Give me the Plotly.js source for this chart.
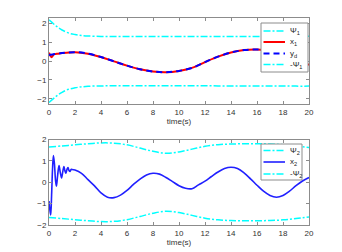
<!DOCTYPE html>
<html>
<head>
<meta charset="utf-8">
<script src="https://cdn.plot.ly/plotly-3.0.1.min.js"></script>
<style>html,body{margin:0;padding:0;background:#fff;}#chart{width:342px;height:252px;}</style>
</head>
<body>
<div id="chart"></div>
<script>
// ---- data ----
var psi1T = [0, 0.25, 0.5, 0.75, 1, 1.5, 2, 2.5, 3, 4, 5, 6, 7, 8, 9, 10, 11, 12, 13, 14, 15, 16, 17, 18, 19, 20];
var psi1  = [2.2, 2.05, 1.9, 1.77, 1.66, 1.5, 1.42, 1.37, 1.34, 1.32, 1.31, 1.31, 1.31, 1.31, 1.31, 1.31, 1.31, 1.31, 1.32, 1.32, 1.32, 1.32, 1.32, 1.32, 1.33, 1.33];

var ydT = [0, 1, 2, 3, 4, 5, 6, 7, 8, 9, 10, 11, 12, 13, 14, 15, 16, 17, 18, 19, 20];
var yd  = [0.33, 0.43, 0.48, 0.40, 0.22, -0.01, -0.24, -0.43, -0.55, -0.59, -0.52, -0.36, -0.05, 0.24, 0.46, 0.59, 0.62, 0.55, 0.38, 0.09, -0.2];

var x1T = [0, 0.1, 0.2, 0.3, 0.4, 0.6, 0.8, 1, 2, 3, 4, 5, 6, 7, 8, 9, 10, 11, 12, 13, 14, 15, 16, 17, 18, 19, 20];
var x1  = [0.45, 0.30, 0.21, 0.30, 0.37, 0.39, 0.41, 0.43, 0.48, 0.40, 0.22, -0.01, -0.24, -0.43, -0.55, -0.59, -0.52, -0.36, -0.05, 0.24, 0.46, 0.59, 0.62, 0.55, 0.38, 0.09, -0.2];

var psi2T = [0, 1, 2, 3, 4, 5, 6, 7, 8, 9, 10, 11, 12, 13, 14, 15, 16, 17, 18, 19, 20];
var psi2  = [1.65, 1.70, 1.75, 1.80, 1.84, 1.83, 1.75, 1.60, 1.45, 1.36, 1.42, 1.55, 1.68, 1.76, 1.79, 1.80, 1.80, 1.79, 1.76, 1.70, 1.62];

var x2T = [0, 0.05, 0.13, 0.2, 0.27, 0.34, 0.42, 0.5, 0.57, 0.66, 0.77, 0.87, 0.97, 1.06, 1.15, 1.22, 1.3, 1.38, 1.46, 1.54, 1.62, 1.7, 1.77, 2,
           2.5, 3, 3.5, 4, 4.5, 5, 5.5, 6, 6.5, 7, 7.5, 8, 8.5, 9, 9.5, 10, 10.5, 11, 11.5, 12, 12.5, 13, 13.5, 14, 14.5, 15, 15.5, 16, 16.5, 17, 17.5, 18, 18.5, 19, 19.5, 20];
var x2  = [-0.88, -1.2, -1.53, -0.6, 0.6, 1.25, 0.85, 0.1, -0.18, 0.3, 0.78, 0.45, 0.2, 0.5, 0.73, 0.55, 0.42, 0.6, 0.69, 0.55, 0.5, 0.6, 0.6, 0.57,
           0.42, 0.12, -0.17, -0.50, -0.70, -0.72, -0.60, -0.38, -0.10, 0.15, 0.34, 0.42, 0.38, 0.22, 0.03, -0.16, -0.28, -0.30, -0.12, 0.05, 0.27, 0.48, 0.64, 0.70, 0.64, 0.44, 0.16, -0.14, -0.42, -0.62, -0.70, -0.62, -0.42, -0.16, 0.06, 0.22];

var xTicks = [0, 2, 4, 6, 8, 10, 12, 14, 16, 18, 20];
var labels1 = ['Ψ<sub>1</sub>', 'x<sub>1</sub>', 'y<sub>d</sub>', '-Ψ<sub>1</sub>'];
var labels2 = ['Ψ<sub>2</sub>', 'x<sub>2</sub>', '-Ψ<sub>2</sub>'];

// ---- styles ----
var CYAN = '#00ffff', RED = '#ff0000', BLUE = '#0000ff', BLUE2 = '#2020ff';
var DASHDOT = '7px,2px,2px,2px', DASH = '6px,4px';
var FONT = 'Liberation Sans, Arial, sans-serif';

function neg(a){ return a.map(function(v){ return -v; }); }

var traces = [
  {x: psi1T, y: psi1, xaxis:'x', yaxis:'y', mode:'lines', line:{color:CYAN, width:1.5, dash:DASHDOT, shape:'spline'}, name: labels1[0]},
  {x: x1T, y: x1, xaxis:'x', yaxis:'y', mode:'lines', line:{color:RED, width:2, shape:'spline'}, name: labels1[1]},
  {x: ydT, y: yd, xaxis:'x', yaxis:'y', mode:'lines', line:{color:BLUE, width:2, dash:DASH, shape:'spline'}, name: labels1[2]},
  {x: psi1T, y: neg(psi1), xaxis:'x', yaxis:'y', mode:'lines', line:{color:CYAN, width:1.5, dash:DASHDOT, shape:'spline'}, name: labels1[3]},
  {x: psi2T, y: psi2, xaxis:'x2', yaxis:'y2', mode:'lines', line:{color:CYAN, width:1.5, dash:DASHDOT, shape:'spline'}, name: labels2[0]},
  {x: x2T, y: x2, xaxis:'x2', yaxis:'y2', mode:'lines', line:{color:BLUE2, width:1.6, shape:'spline'}, name: labels2[1]},
  {x: psi2T, y: neg(psi2), xaxis:'x2', yaxis:'y2', mode:'lines', line:{color:CYAN, width:1.5, dash:DASHDOT, shape:'spline'}, name: labels2[2]}
];

// plot area in pixels (for placing the hand-drawn legends)
var PL = 49, PR = 309, PT = 18, PB = 225;
function px(x){ return (x - PL) / (PR - PL); }
function py(y){ return (PB - y) / (PB - PT); }

var shapes = [], annotations = [];
function addLegend(box, rows, labels, styles){
  shapes.push({type:'rect', xref:'paper', yref:'paper', x0:px(box[0]), x1:px(box[1]), y0:py(box[3]), y1:py(box[2]),
               line:{color:'#8c8c8c', width:1}, fillcolor:'#ffffff', layer:'above'});
  for (var i = 0; i < labels.length; i++) {
    shapes.push({type:'line', xref:'paper', yref:'paper', x0:px(box[0] + 2.5), x1:px(box[0] + 24), y0:py(rows[i]), y1:py(rows[i]),
                 line:styles[i], layer:'above'});
    annotations.push({xref:'paper', yref:'paper', x:px(box[0] + 27), y:py(rows[i]), xanchor:'left', yanchor:'middle',
                      text:labels[i], showarrow:false, font:{family:FONT, size:8, color:'#262626'}});
  }
}
addLegend([261, 308, 23, 72], [31, 42, 53.5, 64.5], labels1,
  [{color:CYAN, width:1.5, dash:DASHDOT}, {color:RED, width:2}, {color:BLUE, width:2, dash:DASH}, {color:CYAN, width:1.5, dash:DASHDOT}]);
addLegend([261, 302, 144, 180], [150.5, 162, 174], labels2,
  [{color:CYAN, width:1.5, dash:DASHDOT}, {color:BLUE2, width:1.6}, {color:CYAN, width:1.5, dash:DASHDOT}]);

function xa(anchor){
  return {anchor:anchor, domain:[0,1], range:[0,20], tickvals:xTicks, ticks:'inside', ticklen:3, tickcolor:'#8c8c8c',
          showline:true, linecolor:'#8c8c8c', linewidth:1, mirror:'ticks', showgrid:false, zeroline:false,
          tickfont:{family:FONT, size:8, color:'#333333'},
          title:{text:'time(s)', font:{family:FONT, size:8, color:'#333333'}, standoff:2}};
}
function ya(anchor, dom, rng){
  return {anchor:anchor, domain:dom, range:rng, tickvals:[-2,-1,0,1,2], ticks:'inside', ticklen:3, tickcolor:'#8c8c8c',
          showline:true, linecolor:'#8c8c8c', linewidth:1, mirror:'ticks', showgrid:false, zeroline:false,
          tickfont:{family:FONT, size:8, color:'#333333'}};
}

var layout = {
  width:342, height:252, paper_bgcolor:'#ffffff', plot_bgcolor:'#ffffff',
  margin:{l:PL, r:342-PR, t:PT, b:252-PB},
  showlegend:false,
  xaxis: xa('y'), yaxis: ya('x', [0.583, 1], [-2.3, 2.3]),
  xaxis2: xa('y2'), yaxis2: ya('x2', [0, 0.413], [-2, 2]),
  shapes: shapes, annotations: annotations
};

Plotly.newPlot('chart', traces, layout, {staticPlot:true, displayModeBar:false});
</script>
</body>
</html>
